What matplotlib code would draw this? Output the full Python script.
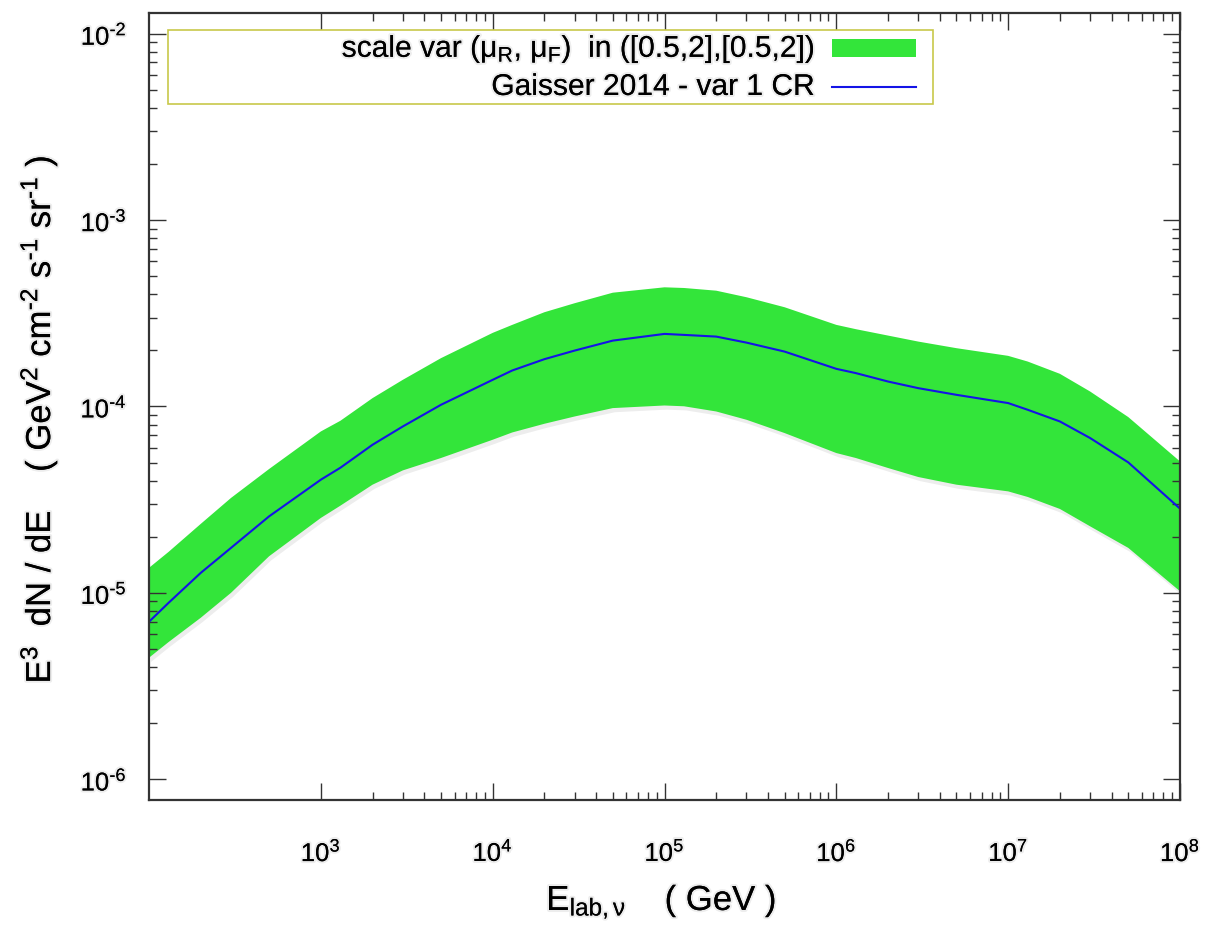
import numpy as np
import matplotlib
matplotlib.use("Agg")
import matplotlib.pyplot as plt
from matplotlib.ticker import FixedLocator, NullFormatter, FuncFormatter
from matplotlib.patches import Rectangle
from matplotlib.lines import Line2D
import matplotlib.patheffects as pe

plt.rcParams['font.family'] = ['Liberation Sans', 'DejaVu Sans']
plt.rcParams['mathtext.fontset'] = 'custom'
plt.rcParams['mathtext.rm'] = 'Liberation Sans'
plt.rcParams['mathtext.it'] = 'Liberation Sans'
plt.rcParams['mathtext.default'] = 'regular'

# ---- data ----
energy = [1e2, 1.3e2, 2e2, 3e2, 5e2,
          1e3, 1.3e3, 2e3, 3e3, 5e3,
          1e4, 1.3e4, 2e4, 3e4, 5e4,
          1e5, 1.3e5, 2e5, 3e5, 5e5,
          1e6, 1.3e6, 2e6, 3e6, 5e6,
          1e7, 1.3e7, 2e7, 3e7, 5e7,
          1e8]
band_upper = [1.363e-5, 1.660e-5, 2.345e-5, 3.231e-5, 4.620e-5,
              7.346e-5, 8.383e-5, 1.109e-4, 1.390e-4, 1.816e-4,
              2.482e-4, 2.740e-4, 3.203e-4, 3.580e-4, 4.077e-4,
              4.358e-4, 4.321e-4, 4.180e-4, 3.855e-4, 3.407e-4,
              2.740e-4, 2.598e-4, 2.401e-4, 2.229e-4, 2.055e-4,
              1.869e-4, 1.742e-4, 1.497e-4, 1.203e-4, 8.775e-5,
              5.075e-5]
central = [7.003e-6, 8.850e-6, 1.281e-5, 1.744e-5, 2.575e-5,
           4.049e-5, 4.695e-5, 6.236e-5, 7.815e-5, 1.021e-4,
           1.390e-4, 1.560e-4, 1.794e-4, 1.995e-4, 2.256e-4,
           2.451e-4, 2.421e-4, 2.371e-4, 2.201e-4, 1.970e-4,
           1.592e-4, 1.510e-4, 1.361e-4, 1.254e-4, 1.155e-4,
           1.043e-4, 9.601e-5, 8.312e-5, 6.771e-5, 5.013e-5,
           2.832e-5]
band_lower = [4.491e-6, 5.450e-6, 7.355e-6, 1.001e-5, 1.573e-5,
              2.524e-5, 2.938e-5, 3.807e-5, 4.541e-5, 5.291e-5,
              6.631e-5, 7.256e-5, 8.078e-5, 8.839e-5, 9.804e-5,
              1.0125e-4, 1.0025e-4, 9.402e-5, 8.488e-5, 7.203e-5,
              5.627e-5, 5.291e-5, 4.678e-5, 4.185e-5, 3.807e-5,
              3.505e-5, 3.271e-5, 2.821e-5, 2.276e-5, 1.744e-5,
              1.021e-5]

x_major = [1e3, 1e4, 1e5, 1e6, 1e7, 1e8]
y_major = [1e-6, 1e-5, 1e-4, 1e-3, 1e-2]

band_label = r"scale var ($\mu_R$, $\mu_F$)  in ([0.5,2],[0.5,2])"
line_label = "Gaisser 2014 - var 1 CR"
xlabel = r"E$_{lab,\nu}$    ( GeV )"
ylabel = r"E$^3$  dN / dE    ( GeV$^2$ cm$^{\text{-}2}$ s$^{\text{-}1}$ sr$^{\text{-}1}$ )"

green = '#33e53a'
blue = '#1414e6'
shadow = [pe.withStroke(linewidth=3, foreground=(0, 0, 0, 0.07))]

fig = plt.figure(figsize=(12.06, 9.34), dpi=100)
ax = fig.add_axes([149/1206, 1-800/934, (1180-149)/1206, (800-13)/934])

ax.fill_between(energy, band_lower, band_upper, color=green, lw=0,
                path_effects=[pe.SimplePatchShadow(offset=(1.5, -3), shadow_rgbFace='k', alpha=0.07), pe.Normal()])
ax.plot(energy, central, color=blue, lw=1.5)

ax.set_xscale('log')
ax.set_yscale('log')
ax.set_xlim(1e2, 1e8)
ax.set_ylim(7.75e-7, 1.29e-2)

x_minor = [m * 10.0**d for d in range(3, 8) for m in range(2, 10)]
y_minor = [m * 10.0**d for d in range(-6, -2) for m in range(2, 10)]
ax.xaxis.set_major_locator(FixedLocator(x_major))
ax.xaxis.set_minor_locator(FixedLocator(x_minor))
ax.yaxis.set_major_locator(FixedLocator(y_major))
ax.yaxis.set_minor_locator(FixedLocator(y_minor))
ax.xaxis.set_minor_formatter(NullFormatter())
ax.yaxis.set_minor_formatter(NullFormatter())


def pow_fmt(v, p):
    e = int(round(np.log10(v)))
    if e < 0:
        return r"10$^{\text{-}%d}$" % (-e)
    return r"10$^{%d}$" % e


fmt = FuncFormatter(pow_fmt)
ax.xaxis.set_major_formatter(fmt)
ax.yaxis.set_major_formatter(fmt)

ax.tick_params(which='both', direction='in', top=True, right=True, color='#333333', width=1.0)
ax.tick_params(which='major', length=12.5, labelsize=18.5)
ax.tick_params(axis='x', which='major', pad=28)
ax.tick_params(axis='y', which='major', pad=16)
ax.tick_params(which='minor', length=6)
for lab in ax.get_xticklabels() + ax.get_yticklabels():
    lab.set_path_effects(shadow)
for sp in ax.spines.values():
    sp.set_linewidth(1.6)
    sp.set_color('#333333')

ax.set_xlabel(xlabel, fontsize=25, path_effects=shadow)
ax.set_ylabel(ylabel, fontsize=25, path_effects=shadow)
ax.xaxis.set_label_coords(0.497, -0.105)
ax.yaxis.set_label_coords(-0.087, 0.484)

# key box (gnuplot-style, text right-aligned before the sample)
ax.add_patch(Rectangle((0.018, 0.885), 0.742, 0.0935, transform=ax.transAxes,
                       facecolor='white', edgecolor='#c8c84a', lw=1.2, zorder=5))
ax.text(0.646, 0.9543, band_label, transform=ax.transAxes, ha='right', va='center',
        fontsize=21.6, zorder=6, path_effects=shadow)
ax.text(0.646, 0.9060, line_label, transform=ax.transAxes, ha='right', va='center',
        fontsize=21.6, zorder=6, path_effects=shadow)
ax.add_patch(Rectangle((0.662, 0.9441), 0.082, 0.0229, transform=ax.transAxes,
                       facecolor=green, edgecolor='none', zorder=6))
ax.add_line(Line2D([0.662, 0.744], [0.9060, 0.9060], transform=ax.transAxes,
                   color=blue, lw=1.5, zorder=6))

fig.savefig('out.png', dpi=100, facecolor='white')
